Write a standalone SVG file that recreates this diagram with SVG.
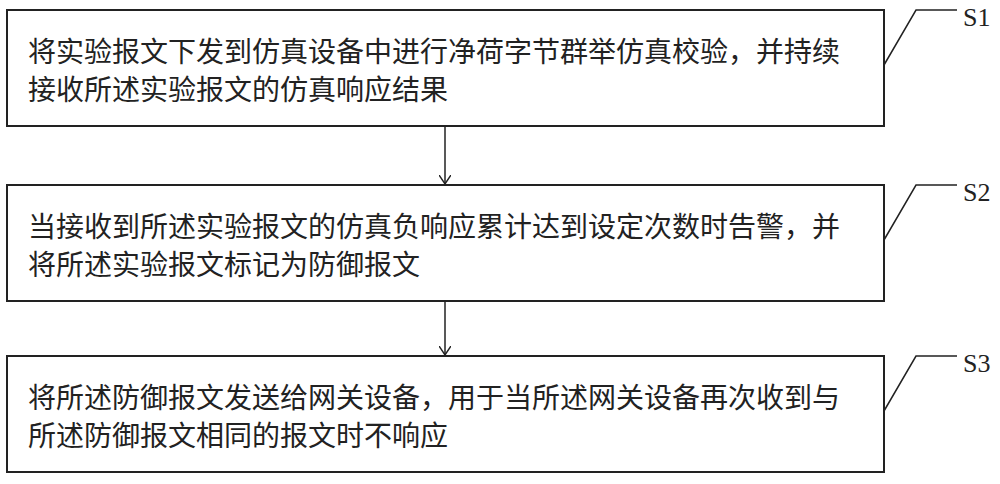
<svg xmlns="http://www.w3.org/2000/svg" width="1000" height="484" viewBox="0 0 1000 484">
<style>
.b{fill:#fff;stroke:#222;stroke-width:2}
.t{font-family:"Noto Sans CJK SC",sans-serif;font-size:28px;fill:#222}
.s{font-family:"Liberation Serif",serif;font-size:26px;fill:#222}
.l{fill:none;stroke:#222;stroke-width:1.5}
</style>
<defs><marker id="a" markerWidth="12" markerHeight="12" refX="9" refY="6" orient="auto" markerUnits="userSpaceOnUse"><path d="M0,0 L9,6 L0,12" fill="none" stroke="#222" stroke-width="1.5"/></marker></defs>
<rect width="1000" height="484" fill="#fff"/>
<g id="n1"><rect class="b" x="7" y="10" width="877" height="116"/>
<text class="t" x="28" y="62">将实验报文下发到仿真设备中进行净荷字节群举仿真校验，并持续</text>
<text class="t" x="28" y="100">接收所述实验报文的仿真响应结果</text>
<path class="l" d="M884,65 L916,10 L957,10"/><text class="s" x="963" y="26">S1</text></g>
<g id="n2"><rect class="b" x="7" y="185" width="877" height="116"/>
<text class="t" x="28" y="237">当接收到所述实验报文的仿真负响应累计达到设定次数时告警，并</text>
<text class="t" x="28" y="275">将所述实验报文标记为防御报文</text>
<path class="l" d="M884,240 L916,185 L957,185"/><text class="s" x="963" y="201">S2</text></g>
<g id="n3"><rect class="b" x="7" y="356" width="877" height="116"/>
<text class="t" x="28" y="408">将所述防御报文发送给网关设备，用于当所述网关设备再次收到与</text>
<text class="t" x="28" y="446">所述防御报文相同的报文时不响应</text>
<path class="l" d="M884,411 L916,356 L957,356"/><text class="s" x="963" y="372">S3</text></g>
<g id="connectors">
<line class="l" x1="445" y1="126" x2="445" y2="184" marker-end="url(#a)"/>
<line class="l" x1="445" y1="301" x2="445" y2="355" marker-end="url(#a)"/>
</g>
</svg>
